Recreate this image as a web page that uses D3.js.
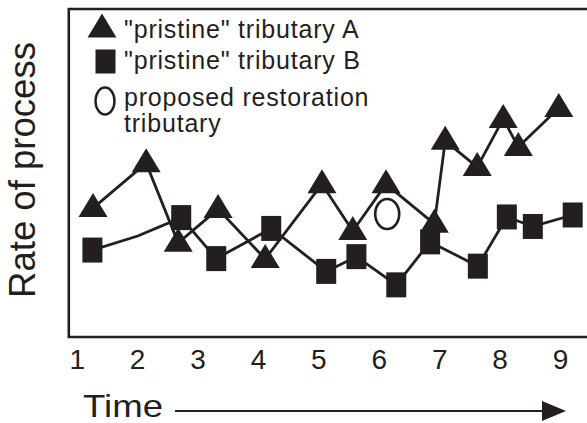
<!DOCTYPE html>
<html>
<head>
<meta charset="utf-8">
<script src="https://cdn.jsdelivr.net/npm/d3@7"></script>
<style>
  body { margin: 0; background: #fff; }
  svg { display: block; }
  text { font-family: Arial, "Liberation Sans", Helvetica, sans-serif; fill: #231f20; }
</style>
</head>
<body>
<div id="chart"></div>
<script>
"use strict";

// Data
// ----

var timeTicks = [1, 2, 3, 4, 5, 6, 7, 8, 9];

// "pristine" tributary A (triangles)
var timeA = [1.27, 2.15, 2.68, 3.34, 4.12, 5.06, 5.57, 6.12, 6.92, 7.10, 7.63, 8.06, 8.31, 8.98];
var rateA = [3.93, 5.30, 2.87, 3.90, 2.38, 4.66, 3.23, 4.66, 3.45, 5.98, 5.18, 6.65, 5.79, 6.98];

// "pristine" tributary B (squares), second point has no marker
var timeB = [1.26, 2.01, 2.73, 3.31, 4.22, 5.13, 5.63, 6.29, 6.85, 7.64, 8.12, 8.55, 9.21];
var rateB = [2.65, 3.08, 3.64, 2.39, 3.31, 2.00, 2.45, 1.59, 2.90, 2.16, 3.66, 3.37, 3.72];
var unmarkedB = [1];

// proposed restoration tributary (circle)
var timeC = [6.14];
var rateC = [3.75];

var legendLabels = [
  ['"pristine" tributary A'],
  ['"pristine" tributary B'],
  ['proposed restoration', 'tributary']
];


// Setup
// -----

var W = 587, H = 423,
    ink = "#231f20";

var svg = d3.select("#chart").append("svg")
    .attr("width", W)
    .attr("height", H);

var x = d3.scaleLinear().domain([1, 9]).range([76.7, 560]),
    y = d3.scaleLinear().domain([0, 10]).range([337, 9]);

function zip(ts, vs) {
  return ts.map(function(t, i) { return {t: t, v: vs[i], i: i}; });
}

var dataA = zip(timeA, rateA),
    dataB = zip(timeB, rateB),
    dataC = zip(timeC, rateC);

var tri = "M0,-15L14.5,9L-14.5,9Z";


// Frame (open on the right)

svg.append("path")
    .attr("d", "M" + (W + 5) + "," + y(10) + "H68.8V" + y(0) + "H" + (W + 5))
    .attr("fill", "none")
    .attr("stroke", ink)
    .attr("stroke-width", 2.6);


// Axis
// ----

var xAxis = svg.append("g")
    .attr("transform", "translate(0," + y(0) + ")")
    .call(d3.axisBottom(x).tickValues(timeTicks).tickSize(0).tickPadding(12)
        .tickFormat(d3.format("d")));

xAxis.select(".domain").remove();
xAxis.selectAll("text")
    .attr("fill", ink)
    .style("font-size", "28px")
    .style("font-family", "Arial, 'Liberation Sans', sans-serif");

svg.append("text")
    .attr("x", 83)
    .attr("y", 416.5)
    .attr("textLength", 80)
    .attr("lengthAdjust", "spacingAndGlyphs")
    .style("font-size", "32px")
    .text("Time");

svg.append("line")
    .attr("x1", 175).attr("x2", 546)
    .attr("y1", 411).attr("y2", 411)
    .attr("stroke", ink)
    .attr("stroke-width", 2);

svg.append("path")
    .attr("d", "M542,401L566,411L542,421Z")
    .attr("fill", ink);

svg.append("text")
    .attr("transform", "translate(35,170) rotate(-90)")
    .attr("text-anchor", "middle")
    .attr("textLength", 256)
    .attr("lengthAdjust", "spacingAndGlyphs")
    .style("font-size", "36px")
    .text("Rate of process");


// Curves
// ------

var line = d3.line()
    .x(function(d) { return x(d.t); })
    .y(function(d) { return y(d.v); });

[dataA, dataB].forEach(function(data) {
  svg.append("path")
      .datum(data)
      .attr("d", line)
      .attr("fill", "none")
      .attr("stroke", ink)
      .attr("stroke-width", 2.8)
      .attr("stroke-linejoin", "round");
});

svg.selectAll(".sq")
    .data(dataB.filter(function(d) { return unmarkedB.indexOf(d.i) < 0; }))
    .enter().append("rect")
    .attr("class", "sq")
    .attr("x", function(d) { return x(d.t) - 10; })
    .attr("y", function(d) { return y(d.v) - 12.5; })
    .attr("width", 20)
    .attr("height", 25)
    .attr("fill", ink);

svg.selectAll(".tri")
    .data(dataA)
    .enter().append("path")
    .attr("class", "tri")
    .attr("transform", function(d) { return "translate(" + x(d.t) + "," + y(d.v) + ")"; })
    .attr("d", tri)
    .attr("fill", ink);

svg.selectAll(".circ")
    .data(dataC)
    .enter().append("ellipse")
    .attr("class", "circ")
    .attr("cx", function(d) { return x(d.t); })
    .attr("cy", function(d) { return y(d.v); })
    .attr("rx", 12)
    .attr("ry", 15)
    .attr("fill", "none")
    .attr("stroke", ink)
    .attr("stroke-width", 2.6);


// Legend
// ------

var lgd = svg.append("g");

lgd.append("path")
    .attr("transform", "translate(102,28.5)")
    .attr("d", tri)
    .attr("fill", ink);

lgd.append("rect")
    .attr("x", 95.5).attr("y", 49.5)
    .attr("width", 20).attr("height", 24)
    .attr("fill", ink);

lgd.append("ellipse")
    .attr("cx", 105).attr("cy", 101)
    .attr("rx", 9.5).attr("ry", 13.5)
    .attr("fill", "none")
    .attr("stroke", ink)
    .attr("stroke-width", 2.4);

var baselines = [[37.7], [69.3], [105.5, 131.5]];

legendLabels.forEach(function(lines, i) {
  lines.forEach(function(s, j) {
    lgd.append("text")
        .attr("x", 124)
        .attr("y", baselines[i][j])
        .style("font-size", "25px")
        .style("letter-spacing", "0.8px")
        .text(s);
  });
});
</script>
</body>
</html>
